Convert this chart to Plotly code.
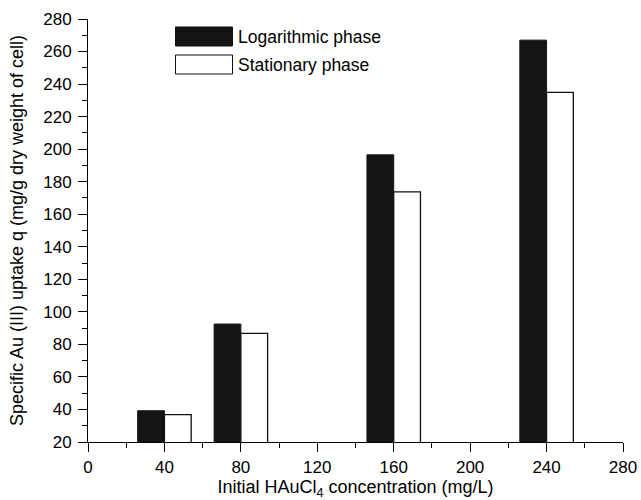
import plotly.graph_objects as go

concentrations = [40, 80, 160, 240]
log_phase = [39.2, 92.5, 196.5, 267.0]
stat_phase = [36.8, 86.8, 173.8, 234.9]
legend_names = ["Logarithmic phase", "Stationary phase"]
x_ticks = [0, 40, 80, 120, 160, 200, 240, 280]
y_ticks = list(range(20, 281, 20))

FONT = "Liberation Sans, Arial, sans-serif"
W, H = 641, 500
ML, MR, MT, MB = 88, 18, 19, 58
PW, PH = W - ML - MR, H - MT - MB

fig = go.Figure()
fig.add_trace(go.Bar(x=concentrations, y=log_phase, name=legend_names[0],
                     width=14, offset=-14, base=0,
                     marker=dict(color="#141414", line=dict(color="#141414", width=1)),
                     showlegend=False))
fig.add_trace(go.Bar(x=concentrations, y=stat_phase, name=legend_names[1],
                     width=14, offset=0, base=0,
                     marker=dict(color="white", line=dict(color="#111111", width=1.3)),
                     showlegend=False))

def px2paper(px, py):
    return (px - ML) / PW, (H - MB - py) / PH

# legend drawn with shapes
sw = [(175.5, 27, 232.5, 46, "#141414"), (175.5, 55, 232.5, 74, "white")]
for (x0, y0, x1, y1, c), name in zip(sw, legend_names):
    a, b = px2paper(x0, y1)
    cx, d = px2paper(x1, y0)
    fig.add_shape(type="rect", xref="paper", yref="paper", x0=a, y0=b, x1=cx, y1=d,
                  fillcolor=c, line=dict(color="#111111", width=1))
    tx, ty = px2paper(236, (y0 + y1) / 2)
    fig.add_annotation(xref="paper", yref="paper", x=tx, y=ty, text=name,
                       showarrow=False, xanchor="left", yanchor="middle",
                       font=dict(family=FONT, size=17.5, color="black"))

axis_common = dict(showline=True, linecolor="black", linewidth=1, mirror=False,
                   ticks="outside", ticklen=9, tickwidth=1, tickcolor="black",
                   showgrid=False, zeroline=False, automargin=False,
                   tickfont=dict(family=FONT, size=17, color="black"))

fig.update_layout(
    width=W, height=H, margin=dict(l=ML, r=MR, t=MT, b=MB, pad=0, autoexpand=False),
    plot_bgcolor="white", paper_bgcolor="white", barmode="overlay",
    font=dict(family=FONT, color="black"),
    xaxis=dict(range=[0, 280], tickvals=x_ticks, ticklabelstandoff=1,
               minor=dict(ticks="outside", ticklen=5, dtick=20, tick0=0, tickcolor="black"),
               title=dict(text="Initial HAuCl<sub>4</sub> concentration (mg/L)",
                          font=dict(family=FONT, size=18), standoff=8),
               **axis_common),
    yaxis=dict(range=[20, 280], tickvals=y_ticks, ticklabelstandoff=3,
               minor=dict(ticks="outside", ticklen=5, dtick=10, tick0=0, tickcolor="black"),
               title=dict(text="Specific Au (III) uptake q (mg/g dry weight of cell)",
                          font=dict(family=FONT, size=18), standoff=14),
               **axis_common),
)

fig.write_html("out.html")
